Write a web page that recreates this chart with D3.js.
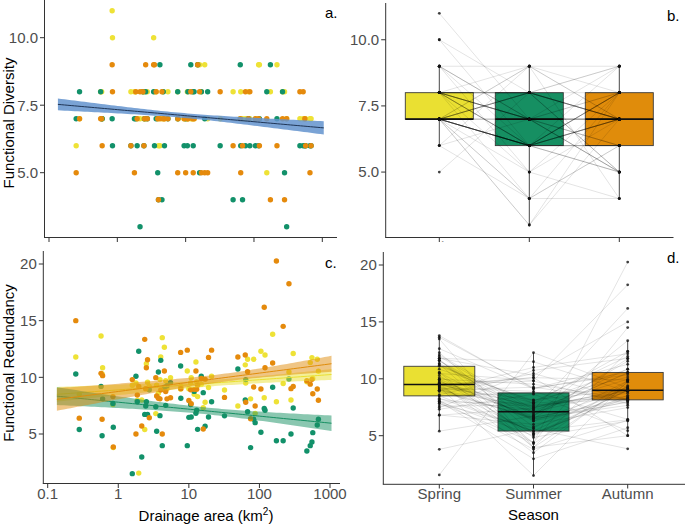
<!DOCTYPE html>
<html><head><meta charset="utf-8">
<script src="https://cdn.jsdelivr.net/npm/d3@7"></script>
<style>
body{margin:0;background:#fff}
svg{display:block}
text{font-family:"Liberation Sans",Arial,Helvetica,sans-serif}
</style>
</head><body>
<svg id="chart" width="685" height="525"></svg>
<script>
// ---------------- DATA ----------------
const seasons = ["Spring", "Summer", "Autumn"];
const area = [0.25,0.28,0.57,0.60,0.59,0.84,0.85,1.58,1.78,1.95,1.86,2.15,2.37,2.5,2.6,2.45,2.75,3.4,3.5,3.7,3.9,4.0,4.2,4.5,4.7,4.9,5.5,7.65,7.7,9.5,10.0,10.6,10.8,11.9,12.6,12.9,13.3,15,16,17,19,21,32,49.5,63,64,68,75,87,83,105,117,120,154,174,217,262,280,301,470,525,555,570,660,685];
const fdSpring = [6,7,8,7,8,11,10,8,8,7,8,7,8,8,7,7,8,10,8,8,7,6,6,7,8,7,8,8,7,7,7,8,7,7,7,8,7,9,9,8,9,7,7,8,7,8,7,7,7,8,7,9,9,5,8,9,8,8,7,7,7,7,7,7,7];
const fdSummer = [7,8,8,7,7,7,6,6,7,6,7,3,8,7,8,6,7,8,6,7,5,4,9,4,8,6,7,8,7,6,7,6,8,9,8,6,8,9,5,8,7,8,6,4,9,6,4,6,6,7,6,6,7,8,9,7,8,5,3,6,6,6,6,6,6];
const fdAutumn = [5,7,7,6,7,9,8,6,5,7,8,8,8,7,9,6,7,9,9,8,7,4,7,8,7,7,7,5,7,7,5,7,7,8,7,5,7,9,8,5,5,5,8,6,7,5,6,8,8,7,7,7,6,7,4,6,7,4,7,8,8,7,6,5,6];
const frSpring = [11.8,8.5,13.65,10.85,10.3,7.6,3.8,9.3,9.5,1.55,7.97,8.0,5.4,11.2,9.56,9.0,9.2,6.8,9.3,8.6,9.8,11.8,13.5,12.65,9.7,9.0,9.97,8.97,9.2,10.56,9.0,9.5,9.97,8.5,11.35,9.6,8.3,9.4,7.32,7.8,9.1,10.1,8.88,7.47,11.1,9.5,11.6,8.1,6.82,11.6,12.3,8.2,11.97,13.8,7.85,9.45,10.47,8.0,12.1,9.6,11.3,11.74,9.9,11.6,10.54];
const frSummer = [10.3,5.4,9.2,8.1,4.85,7.7,5.6,1.5,10.1,12.3,7.85,2.97,6.73,7.85,6.73,7.47,8.9,7.41,5.24,10.47,6.62,11.5,3.97,9.12,7.53,9.26,9.53,11.0,8.15,3.97,6.47,7.6,6.5,8.76,6.83,7.1,5.41,10.1,8.65,5.68,6.5,7.85,6.6,10.74,8.0,9.8,6.97,3.8,6.0,6.3,5.15,7.26,7.1,9.12,4.4,4.4,9.85,5.0,7.3,3.5,3.97,4.3,5.12,5.8,6.3];
const frAutumn = [15.0,6.4,10.35,10.15,6.3,8.3,3.85,9.8,5.0,9.2,8.44,5.7,13.35,10.85,11.55,9.0,6.44,9.97,8.35,8.15,8.1,8.88,5.0,10.56,8.74,8.1,8.2,12.2,9.0,12.4,7.96,8.9,7.67,8.94,10.56,8.94,9.3,9.9,5.44,9.82,11.76,12.4,8.23,11.8,11.97,7.8,10.5,6.35,7.47,9.15,8.97,16.18,10.85,11.27,20.26,14.5,18.26,9.0,9.2,9.7,9.4,9.82,8.55,8.97,7.98];
const areaTicks = [0.1, 1, 10, 100, 1000];
const areaTickLabels = ["0.1", "1", "10", "100", "1000"];
const fdTicks = [5.0, 7.5, 10.0];
const frTicks = [5, 10, 15, 20];
// fitted trends: value at the two ends of the fitted range,
// and confidence half-width at [left end, narrowest point, right end]
const smoothRange = [0.135, 1050];
const fdFit = [7.53, 6.66];
const fdFitHalfWidth = [0.22, 0.09, 0.245];
const frFitSpring = [8.5, 10.25];
const frFitSummer = [8.34, 5.95];
const frFitAutumn = [8.05, 11.2];
const frHalfWidthSpring = [0.65, 0.28, 0.48];
const frHalfWidthSummer = [0.78, 0.3, 0.68];
const frHalfWidthAutumn = [1.0, 0.35, 0.7];
const panelLabels = ["a.", "b.", "c.", "d."];

// ---------------- STYLE ----------------
const seasonFill = {Spring: "#EAE032", Summer: "#168F62", Autumn: "#E08C0B"};
const seasonPoint = {Spring: "#EEE236", Summer: "#12916A", Autumn: "#E58A0C"};
const tickCol = "#4d4d4d", axisCol = "#333333";
const FS = 15;

const fd = {Spring: fdSpring, Summer: fdSummer, Autumn: fdAutumn};
const fr = {Spring: frSpring, Summer: frSummer, Autumn: frAutumn};
const frFit = {Spring: frFitSpring, Summer: frFitSummer, Autumn: frFitAutumn};
const frHW = {Spring: frHalfWidthSpring, Summer: frHalfWidthSummer, Autumn: frHalfWidthAutumn};

const svg = d3.select("#chart");

function smoothData(ends, hw) {
  const l0 = Math.log10(smoothRange[0]), l1 = Math.log10(smoothRange[1]);
  const m = hw[1] * hw[1];
  const A = Math.sqrt(Math.max(hw[0] * hw[0] - m, 1e-9));
  const B = Math.sqrt(Math.max(hw[2] * hw[2] - m, 1e-9));
  const t0 = A / (A + B);
  const k = (A * A) / (t0 * t0);
  return d3.range(0, 81).map(i => {
    const t = i / 80;
    const lx = l0 + (l1 - l0) * t;
    const y = ends[0] + (ends[1] - ends[0]) * t;
    const h = Math.sqrt(m + k * (t - t0) * (t - t0));
    return {x: Math.pow(10, lx), y, lo: y - h, hi: y + h};
  });
}

function yAxis(g, scale, ticks, fmt, x0, yTop, yBot) {
  g.append("line").attr("x1", x0).attr("x2", x0).attr("y1", yTop).attr("y2", yBot)
    .attr("stroke", axisCol).attr("stroke-width", 1);
  ticks.forEach(t => {
    const y = scale(t);
    g.append("line").attr("x1", x0 - 4.5).attr("x2", x0).attr("y1", y).attr("y2", y)
      .attr("stroke", axisCol).attr("stroke-width", 1);
    g.append("text").attr("x", x0 - 6.5).attr("y", y).attr("dy", "0.36em")
      .attr("text-anchor", "end").attr("font-size", FS).attr("fill", tickCol).text(fmt(t));
  });
}

// ================= PANEL A =================
(function () {
  const g = svg.append("g");
  const x = d3.scaleLog().domain([0.1, 1000]).range([49, 322.3]);
  const y = d3.scaleLinear().domain([3, 11]).range([226.7, 10.7]);
  yAxis(g, y, fdTicks, d3.format(".1f"), 44.5, 0, 237.5);
  g.append("line").attr("x1", 44).attr("x2", 337).attr("y1", 237.5).attr("y2", 237.5)
    .attr("stroke", axisCol).attr("stroke-width", 1);
  areaTicks.forEach(t => g.append("line").attr("x1", x(t)).attr("x2", x(t))
    .attr("y1", 237.5).attr("y2", 242).attr("stroke", axisCol));
  seasons.forEach(s => {
    g.append("g").selectAll("circle").data(area).join("circle")
      .attr("cx", d => x(d)).attr("cy", (d, i) => y(fd[s][i])).attr("r", 2.7)
      .attr("fill", seasonPoint[s]);
  });
  const sd = smoothData(fdFit, fdFitHalfWidth);
  g.append("path").datum(sd)
    .attr("d", d3.area().x(d => x(d.x)).y0(d => y(d.lo)).y1(d => y(d.hi)))
    .attr("fill", "#6393CE").attr("fill-opacity", 0.85);
  g.append("path").datum(sd)
    .attr("d", d3.line().x(d => x(d.x)).y(d => y(d.y)))
    .attr("fill", "none").attr("stroke", "#1F3556").attr("stroke-width", 1);
  g.append("text").attr("x", 325).attr("y", 18).attr("font-size", FS).attr("fill", "#000").text(panelLabels[0]);
  g.append("text").attr("transform", "translate(14," + 123 + ") rotate(-90)")
    .attr("text-anchor", "middle").attr("font-size", FS).attr("fill", "#000").text("Functional Diversity");
})();

function boxStats(vals) {
  const v = vals.slice().sort(d3.ascending);
  const q1 = d3.quantile(v, 0.25), med = d3.quantile(v, 0.5), q3 = d3.quantile(v, 0.75);
  const iqr = q3 - q1;
  const lo = d3.min(v.filter(d => d >= q1 - 1.5 * iqr));
  const hi = d3.max(v.filter(d => d <= q3 + 1.5 * iqr));
  return {q1, med, q3, lo, hi};
}

function pairedPanel(g, data, x, y, bw) {
  seasons.forEach(s => {
    const st = boxStats(data[s]);
    const cx = x(s);
    g.append("line").attr("x1", cx).attr("x2", cx).attr("y1", y(st.q3)).attr("y2", y(st.hi))
      .attr("stroke", "#333").attr("stroke-width", 0.9);
    g.append("line").attr("x1", cx).attr("x2", cx).attr("y1", y(st.q1)).attr("y2", y(st.lo))
      .attr("stroke", "#333").attr("stroke-width", 0.9);
    g.append("rect").attr("x", cx - bw / 2).attr("width", bw)
      .attr("y", y(st.q3)).attr("height", y(st.q1) - y(st.q3))
      .attr("fill", seasonFill[s]).attr("stroke", "#3a3a3a").attr("stroke-width", 0.9);
    g.append("line").attr("x1", cx - bw / 2).attr("x2", cx + bw / 2)
      .attr("y1", y(st.med)).attr("y2", y(st.med)).attr("stroke", "#111").attr("stroke-width", 1.6);
  });
  const line = d3.line().x(d => x(d[0])).y(d => y(d[1]));
  g.append("g").selectAll("path").data(area.map((a, i) => seasons.map(s => [s, data[s][i]])))
    .join("path").attr("d", line).attr("fill", "none")
    .attr("stroke", "#000").attr("stroke-opacity", 0.16).attr("stroke-width", 0.7);
  seasons.forEach(s => {
    g.append("g").selectAll("circle").data(data[s]).join("circle")
      .attr("cx", x(s)).attr("cy", d => y(d)).attr("r", 1.4).attr("fill", "#111").attr("fill-opacity", 0.8);
  });
}

// ================= PANEL B =================
(function () {
  const g = svg.append("g");
  const x = d3.scalePoint().domain(seasons).range([439.3, 619.3]);
  const y = d3.scaleLinear().domain([3, 11]).range([225, 13.3]);
  yAxis(g, y, fdTicks, d3.format(".1f"), 385.7, 3, 237.5);
  g.append("line").attr("x1", 385.2).attr("x2", 673.5).attr("y1", 237.5).attr("y2", 237.5)
    .attr("stroke", axisCol).attr("stroke-width", 1);
  seasons.forEach(s => g.append("line").attr("x1", x(s)).attr("x2", x(s))
    .attr("y1", 237.5).attr("y2", 242).attr("stroke", axisCol));
  pairedPanel(g, fd, x, y, 68);
  svg.append("defs").append("clipPath").attr("id", "clipB")
    .append("rect").attr("x", 380).attr("y", 240).attr("width", 300).attr("height", 2);
  const lab = svg.append("g").attr("clip-path", "url(#clipB)");
  seasons.forEach(s => lab.append("text").attr("x", x(s)).attr("y", 252)
    .attr("text-anchor", "middle").attr("font-size", FS).attr("fill", "#999").text(s));
  g.append("text").attr("x", 667).attr("y", 21).attr("font-size", FS).attr("fill", "#000").text(panelLabels[1]);
})();

// ================= PANEL C =================
(function () {
  const g = svg.append("g");
  const x = d3.scaleLog().domain([0.1, 1000]).range([47.7, 330]);
  const y = d3.scaleLinear().domain([5, 20]).range([434, 264]);
  yAxis(g, y, frTicks, d3.format("d"), 43.3, 251, 483.5);
  g.append("line").attr("x1", 42.8).attr("x2", 340).attr("y1", 483.5).attr("y2", 483.5)
    .attr("stroke", axisCol).attr("stroke-width", 1);
  areaTicks.forEach((t, i) => {
    g.append("line").attr("x1", x(t)).attr("x2", x(t)).attr("y1", 483.5).attr("y2", 488)
      .attr("stroke", axisCol);
    g.append("text").attr("x", x(t)).attr("y", 498.5).attr("text-anchor", "middle")
      .attr("font-size", FS).attr("fill", tickCol).text(areaTickLabels[i]);
  });
  seasons.forEach(s => {
    g.append("g").selectAll("circle").data(area).join("circle")
      .attr("cx", d => x(d)).attr("cy", (d, i) => y(fr[s][i])).attr("r", 2.7)
      .attr("fill", seasonPoint[s]);
  });
  seasons.forEach(s => {
    const sd = smoothData(frFit[s], frHW[s]);
    g.append("path").datum(sd)
      .attr("d", d3.area().x(d => x(d.x)).y0(d => y(d.lo)).y1(d => y(d.hi)))
      .attr("fill", seasonFill[s]).attr("fill-opacity", 0.5);
    g.append("path").datum(sd)
      .attr("d", d3.line().x(d => x(d.x)).y(d => y(d.y)))
      .attr("fill", "none").attr("stroke", seasonFill[s]).attr("stroke-width", 1);
  });
  g.append("text").attr("x", 325).attr("y", 268).attr("font-size", FS).attr("fill", "#000").text(panelLabels[2]);
  g.append("text").attr("transform", "translate(14," + 363 + ") rotate(-90)")
    .attr("text-anchor", "middle").attr("font-size", FS).attr("fill", "#000").text("Functional Redundancy");
  const t = g.append("text").attr("x", 206).attr("y", 521).attr("text-anchor", "middle")
    .attr("font-size", FS).attr("fill", "#000");
  t.append("tspan").text("Drainage area (km");
  t.append("tspan").attr("dy", -6).attr("font-size", 10).text("2");
  t.append("tspan").attr("dy", 6).text(")");
})();

// ================= PANEL D =================
(function () {
  const g = svg.append("g");
  const x = d3.scalePoint().domain(seasons).range([439.3, 627.7]);
  const y = d3.scaleLinear().domain([5, 20]).range([435.7, 265]);
  yAxis(g, y, frTicks, d3.format("d"), 383.3, 252, 484.3);
  g.append("line").attr("x1", 382.8).attr("x2", 685).attr("y1", 484.3).attr("y2", 484.3)
    .attr("stroke", axisCol).attr("stroke-width", 1);
  seasons.forEach(s => {
    g.append("line").attr("x1", x(s)).attr("x2", x(s)).attr("y1", 484.3).attr("y2", 488.5)
      .attr("stroke", axisCol);
    g.append("text").attr("x", x(s)).attr("y", 499).attr("text-anchor", "middle")
      .attr("font-size", FS).attr("fill", tickCol).text(s);
  });
  pairedPanel(g, fr, x, y, 71);
  g.append("text").attr("x", 667).attr("y", 263).attr("font-size", FS).attr("fill", "#000").text(panelLabels[3]);
  g.append("text").attr("x", 533.5).attr("y", 520).attr("text-anchor", "middle")
    .attr("font-size", FS).attr("fill", "#000").text("Season");
})();
</script>
</body></html>
